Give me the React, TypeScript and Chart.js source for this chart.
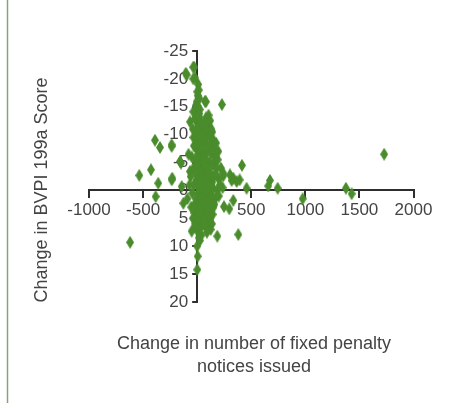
import React, { useEffect, useRef } from "react";
import { Chart, registerables } from "chart.js";

Chart.register(...registerables);

// Change in number of fixed penalty notices issued (x) vs change in BVPI 199a score (y)
const fpnChange: number[] = [
  1729, 1375, 1428, 975, 673, 657, 744, 457, 414, 393, 334, 319, 241, 235, 334, 248, 297, 143, 229, 81,
  380, 186, 72, 1, 5, 0, -128, -51, -620, -384, -535, -427, -360, -390, -344, -236, -230, -150, -143, -106,
  -27, -20, -66, 140, -36, -97, -36, 1, -11, 72, 19, -36, -5, -20, 19, -236, 118, 143, 56, -236,
  241, 303, 149, 365, 26, -67, -159,
  10, 15, 5, 20, 8, 25, 12, 30, 5, 18, 40, -10, 22, 35, 0, 15, 45, -5, 28, 10,
  50, -15, 32, 5, 60, -20, 20, 42, 0, 70, -30, 15, 38, 8, 55, -10, 25, 45, 5, 65,
  -25, 30, 15, 50, 0, 35, 20, 10, 40, 25, 15,
  80, 95, 110, 130, 75, 100, 125, 150, 85, 115, 160, 95, 130, 170, 80, 110, 140, 180, 90, 120,
  155, 200, 85, 115, 145, 185, 100, 130, 165, 90, 120, 150, 80, 105, 130, 95, 115, 75, 100, 125,
  90, 60, 70, 65, 55, 75, 60, 70, 85, 105, 120, 100, 140, 170, 160, 175, 190, 210, 220, 200, 195,
  -40, -30, -50, -35, -60, -45, -25, -55, -40, -20, -70, -80, -15, -90, -35,
  -5, 12, 28, 44, 60, 76, 92, 108, 124, 140, -12, 4, 20, 36, 52, 68, 84, 100, 116, 132,
  -8, 8, 24, 40, 56, 72, 88, 104, 120, 136, -2, 14, 30, 46, 62, 78, 94, 110, 126, 2,
  18, 34, 50, 66, 82, 98, 114, -18, 6, 22, 38, 54, 70, 86, 102, -14, 0, 16, 32, 48,
];

const scoreChange: number[] = [
  -6.5, -0.4, 0.6, 1.5, -1.8, -0.8, -0.4, -0.4, -4.5, -1.9, -2.2, -1.8, -2.6, -0.5, 1.8, 2.9, 3.3, 4.3, -15.4, -15.9,
  7.9, 8.2, 6.4, 14.2, 11.8, 10, 2.3, 7.3, 9.3, 1.1, -2.7, -3.7, -1.3, -9, -7.7, -7.9, -2.2, -4.9, -0.7, -21,
  -22.1, -20.2, -12.3, -10.5, -22.1, -20.7, -20, -17.7, -15.3, -16, -13.8, -14.1, -15.9, -12.9, -13.2, -8.2, -10.2, -8.7, -8.2, -1.9,
  -3.1, -2.8, -4.9, -1.6, -5.8, -3.4, -5.2,
  -19, -18, -17, -16.5, -15, -14.5, -13.5, -12.5, -12, -11.5, -11, -10.5, -10, -9.5, -9, -8.5, -8, -7.5, -7, -6.5,
  -6, -5.5, -5, -4.5, -4, -3.5, -3, -2.5, -2, -1.5, -1, -0.5, 0, 0.5, 1, 1.5, 2, 2.5, 3, 3.5,
  4, 4.5, 5, 5.5, 6, 6.5, 7, 7.5, 8, 9, 8.5,
  -13, -12, -11.5, -11, -10.5, -10, -9.5, -9, -8.5, -8, -7.5, -7, -6.5, -6, -5.5, -5, -4.5, -4, -3.5, -3,
  -2.5, -2, -1.5, -1, -0.5, 0, 0.5, 1, 1.5, 2, 2.5, 3, 3.5, 4, 4.5, 5, 5.5, 6, 6.5, 7,
  7.5, -9.5, -12, -3, -6.5, -0.5, 2.5, 4.5, -11, -13.5, -12.5, -2.5, -1.5, -3, 2.5, -8.5, -5.5, -1, -4, 1, -7,
  -11, -8, -6, -4, -2.5, 0.5, 2.5, 3, 5, 6.5, -1, -6.5, -13, 1.5, -9.5,
  -8, -7, -6, -5, -4, -3, -2, -1, 0, 1, -5.5, -4.5, -3.5, -2.5, -1.5, -0.5, 0.5, 1.5, 2.5, 3.5,
  -3, -2, -1, 0, 1, 2, 3, 4, 5, 6, -9, -8, -7, -6, -5, -4, -3, -2, -1, 4,
  3, 2, 1, 0, -1, -2, -3, 6, 5, 4, 3, 2, 1, 0, -1, -10, -11, -9.5, -8.5, -7.5,
];

const xTicks: number[] = [-1000, -500, 0, 500, 1000, 1500, 2000];
const yTicks: number[] = [-25, -20, -15, -10, -5, 0, 5, 10, 15, 20];

const yTitle = "Change in BVPI 199a Score";
const xTitleLines: string[] = ["Change in number of fixed penalty", "notices issued"];

const GREEN = "#4a8c2c";
const AXIS = "#2e2e2e";
const TEXT = "#444444";
const FONT = "'Liberation Sans', Arial, sans-serif";

function makeDiamond(): HTMLCanvasElement {
  const c = document.createElement("canvas");
  c.width = 8;
  c.height = 13;
  const ctx = c.getContext("2d")!;
  ctx.fillStyle = GREEN;
  ctx.beginPath();
  ctx.moveTo(4, 0);
  ctx.lineTo(8, 6.5);
  ctx.lineTo(4, 13);
  ctx.lineTo(0, 6.5);
  ctx.closePath();
  ctx.fill();
  return c;
}

export default function App() {
  const ref = useRef<HTMLCanvasElement | null>(null);

  useEffect(() => {
    if (!ref.current) return;
    const points = fpnChange.map((x, i) => ({ x, y: scoreChange[i] }));
    const diamond = makeDiamond();

    const decor = {
      id: "decor",
      afterLayout(chart: any) {
        // put the y axis on x = 0
        const ys = chart.scales.y;
        const px = chart.scales.x.getPixelForValue(0);
        ys.right = px;
        ys.left = px - 60;
        ys.width = 60;
      },
      afterDraw(chart: any) {
        const ctx = chart.ctx;
        ctx.save();
        ctx.strokeStyle = "#86a577";
        ctx.lineWidth = 1.5;
        ctx.beginPath();
        ctx.moveTo(7.5, 0);
        ctx.lineTo(7.5, 403);
        ctx.stroke();
        ctx.fillStyle = TEXT;
        ctx.font = `18px ${FONT}`;
        ctx.textAlign = "center";
        ctx.textBaseline = "middle";
        xTitleLines.forEach((t, i) => ctx.fillText(t, 254, 344 + i * 23));
        ctx.translate(42, 190);
        ctx.rotate(-Math.PI / 2);
        ctx.fillText(yTitle, 0, 0);
        ctx.restore();
      },
    };

    const chart = new Chart(ref.current, {
      type: "scatter",
      data: {
        datasets: [
          {
            data: points,
            pointStyle: diamond as any,
            pointRadius: 5,
            backgroundColor: GREEN,
            borderColor: GREEN,
          },
        ],
      },
      options: {
        responsive: false,
        animation: false,
        layout: { padding: { left: 89, right: 41.5, top: 51, bottom: 101 } },
        plugins: { legend: { display: false }, tooltip: { enabled: false } },
        scales: {
          x: {
            type: "linear",
            min: -1000,
            max: 2000,
            position: { y: 0 } as any,
            afterFit: (s: any) => {
              s.height = 0;
            },
            afterBuildTicks: (s: any) => {
              s.ticks = xTicks.map((v) => ({ value: v }));
            },
            ticks: {
              color: TEXT,
              font: { family: FONT, size: 17 },
              padding: 3,
              maxRotation: 0,
              autoSkip: false,
              callback: (v: any) => (Number(v) === 0 ? "" : String(v)),
            },
            grid: { display: true, drawOnChartArea: false, drawTicks: true, tickLength: 7, color: AXIS, lineWidth: 2 },
            border: { display: true, color: AXIS, width: 2 },
          },
          y: {
            type: "linear",
            reverse: true,
            min: -25,
            max: 20,
            position: "left",
            afterFit: (s: any) => {
              s.width = 0;
            },
            afterBuildTicks: (s: any) => {
              s.ticks = yTicks.map((v) => ({ value: v }));
            },
            ticks: {
              color: TEXT,
              font: { family: FONT, size: 17 },
              padding: 4,
              autoSkip: false,
              callback: (v: any) => String(v),
            },
            grid: { display: true, drawOnChartArea: false, drawTicks: true, tickLength: 5, color: AXIS, lineWidth: 2 },
            border: { display: true, color: AXIS, width: 2 },
          },
        },
      },
      plugins: [decor],
    });
    return () => chart.destroy();
  }, []);

  return (
    <div style={{ position: "fixed", left: 0, top: 0, width: 455, height: 403, background: "#fff" }}>
      <canvas ref={ref} width={455} height={403} style={{ width: 455, height: 403 }} />
    </div>
  );
}
